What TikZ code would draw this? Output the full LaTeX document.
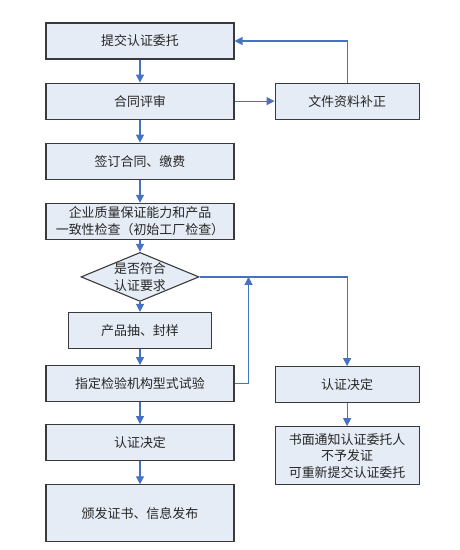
\documentclass[tikz,border=0pt]{standalone}
\usepackage{fontspec}
\setmainfont{Noto Sans CJK SC}
\usepackage{xcolor}
\usepackage{tikz}
\usetikzlibrary{arrows.meta}
\usetikzlibrary{shapes.geometric}
\usetikzlibrary{positioning}
\definecolor{boxfill}{HTML}{E6ECF6}
\definecolor{boxline}{HTML}{3A3A3A}
\definecolor{flowblue}{HTML}{4472C4}
\begin{document}
\begin{tikzpicture}[->,>={Triangle[width=8bp,length=8bp]},node distance=23bp,font=\fontsize{13}{16.5}\selectfont]
 				 \tikzstyle{box}=[draw=boxline, fill=boxfill, line width=1.1bp, align=center, inner sep=0pt, text=black!85, minimum width=188bp, minimum height=36bp]
 				 \tikzstyle{side}=[box, minimum width=144bp]
 				 \tikzstyle{decision}=[diamond, draw=boxline, fill=boxfill, line width=1.1bp, inner sep=0pt, minimum width=118bp, minimum height=49bp]
 				 \tikzstyle{flow}=[color=flowblue, line width=1.2bp]
 				 \useasboundingbox (0,0) rectangle (460bp,-550bp);
 					 \node[box] 			(apply) at (140bp,-41bp)     		{提交认证委托};
 					 \node[box] 			(review) [below=of apply]        		{合同评审};
 					 \node[box] 			(sign) [below=of review]         		{签订合同、缴费};
 					 \node[box] 			(audit) [below=of sign]          		{企业质量保证能力和产品\\一致性检查（初始工厂检查）};
 					 \node[decision] 		(check) [below=12bp of audit]    		{};
 					 \node[align=center, text=black!85] at (check) {是否符合\\认证要求};
 					 \node[box, minimum width=143bp] (sample) [below=10bp of check] {产品抽、封样};
 					 \node[box] 			(test) [below=16bp of sample]     		{指定检验机构型式试验};
 					 \node[box] 			(decide) [below=22bp of test]     		{认证决定};
 					 \node[box, minimum height=57bp] (issue) [below=of decide] {颁发证书、信息发布};
 					 \node[side] 			(fix) [right=40bp of review]      		{文件资料补正};
 					 \node[side] 			(refuse) [right=40bp of test, yshift=-1bp] {认证决定};
 					 \node[side, minimum height=58bp] (notice) [below=of refuse] {书面通知认证委托人\\不予发证\\可重新提交认证委托};
 					 \coordinate[right=49bp of check.east] (join);
				\path[flow]
				(apply) edge (review)
				(review) edge (sign)
				(sign) edge (audit)
				(audit) edge (check)
				(check) edge (sample)
				(sample) edge (test)
				(test) edge (decide)
				(decide) edge (issue)
				(review) edge (fix)
				(refuse) edge (notice);
				\draw[flow] (fix.north) |- (apply.east);
				\draw[flow] (check.east) -| (refuse.north);
				\draw[flow] (test.east) -| (join);
\end{tikzpicture}
\end{document}
